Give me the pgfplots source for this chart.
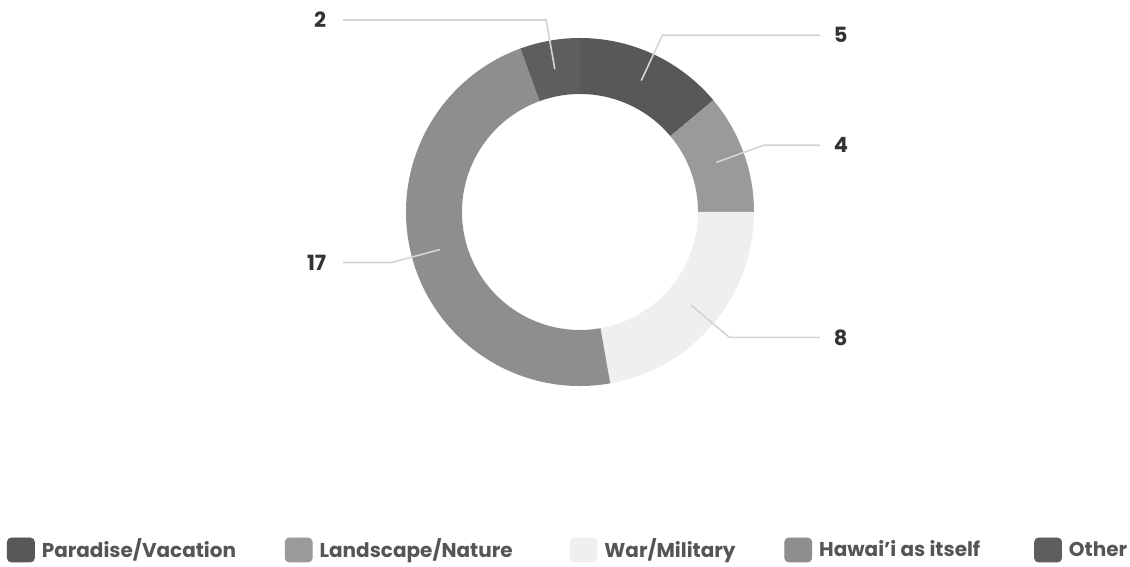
\documentclass[border=0pt]{standalone}
\usepackage{pgfplots}
\pgfplotsset{compat=1.18}
\usepackage{pgfplotstable}
\usepackage{fontspec}
\setmainfont{Poppins}
\definecolor{cPar}{HTML}{585858}
\definecolor{cLand}{HTML}{9A9A9A}
\definecolor{cWar}{HTML}{EFEFEF}
\definecolor{cHaw}{HTML}{8E8E8E}
\definecolor{cOth}{HTML}{5E5E5E}
\definecolor{cLead}{HTML}{D4D4D4}
\definecolor{cText}{HTML}{555555}
\definecolor{cNum}{HTML}{333333}

\pgfplotstableread[col sep=comma]{
name,value,color
Paradise/Vacation,5,cPar
Landscape/Nature,4,cLand
War/Military,8,cWar
Hawai'i as itself,17,cHaw
Other,2,cOth
}\datatable

\pgfplotstablegetrowsof{\datatable}
\pgfmathtruncatemacro\lastrow{\pgfplotsretval-1}
\gdef\total{0}
\pgfplotstableforeachcolumnelement{value}\of\datatable\as\v{%
  \pgfmathparse{\total+\v}\xdef\total{\pgfmathresult}}

% geometry (1 axis unit = 1 px = 0.5pt)
\def\cx{580}
\def\cy{-212}
\def\Ro{87pt}
\def\Ri{59pt}
\def\Rs{72.5pt}
\def\Re{97.5pt}

\begin{document}
\begin{tikzpicture}
\begin{axis}[
  scale only axis,
  width=565pt, height=283.5pt,
  xmin=0, xmax=1130, ymin=-567, ymax=0,
  hide axis, clip=false,
  legend columns=5,
  legend style={at={(axis cs:7,-550)}, anchor=west, draw=none, fill=none,
    inner sep=0pt, outer sep=0pt,
    font=\fontsize{10}{12}\selectfont\bfseries, text=cText,
    nodes={inner sep=0pt},
    /tikz/every odd column/.append style={column sep=3.5pt},
    /tikz/every even column/.append style={column sep=0pt}},
]
\path (rel axis cs:0,0) rectangle (rel axis cs:1,1);
\coordinate (L) at (axis cs:343,0);
\coordinate (R) at (axis cs:820,0);
\gdef\cum{0}
\pgfplotsforeachungrouped \i in {0,...,\lastrow}{%
  \pgfplotstablegetelem{\i}{value}\of\datatable \let\v\pgfplotsretval
  \pgfplotstablegetelem{\i}{color}\of\datatable \let\c\pgfplotsretval
  \pgfmathsetmacro\a{90-360*\cum/\total}%
  \pgfmathsetmacro\b{90-360*(\cum+\v)/\total}%
  \pgfmathsetmacro\m{(\a+\b)/2}%
  \pgfmathparse{\cum+\v}\xdef\cum{\pgfmathresult}%
  \edef\temp{\noexpand\fill[\c] ([shift={(\a:\Ro)}]axis cs:\cx,\cy) arc[start angle=\a, end angle=\b, radius=\Ro] -- ([shift={(\b:\Ri)}]axis cs:\cx,\cy) arc[start angle=\b, end angle=\a, radius=\Ri] -- cycle;}%
  \temp
}
\gdef\cum{0}
\pgfplotsforeachungrouped \i in {0,...,\lastrow}{%
  \pgfplotstablegetelem{\i}{value}\of\datatable \let\v\pgfplotsretval
  \pgfmathsetmacro\a{90-360*\cum/\total}%
  \pgfmathsetmacro\b{90-360*(\cum+\v)/\total}%
  \pgfmathsetmacro\m{(\a+\b)/2}%
  \pgfmathparse{\cum+\v}\xdef\cum{\pgfmathresult}%
  \pgfmathparse{cos(\m)>0 ? 1 : 0}%
  \ifnum\pgfmathresult=1
    \edef\temp{\noexpand\draw[cLead, line width=0.8pt] ([shift={(\m:\Rs)}]axis cs:\cx,\cy) -- ([shift={(\m:\Re)}]axis cs:\cx,\cy) coordinate (e) -- (e -| R) node[anchor=west, xshift=6.5pt, inner sep=0pt, text=cNum, font=\noexpand\fontsize{10.5}{12}\noexpand\selectfont\noexpand\bfseries] {\v};}%
  \else
    \edef\temp{\noexpand\draw[cLead, line width=0.8pt] ([shift={(\m:\Rs)}]axis cs:\cx,\cy) -- ([shift={(\m:\Re)}]axis cs:\cx,\cy) coordinate (e) -- (e -| L) node[anchor=east, xshift=-8pt, inner sep=0pt, text=cNum, font=\noexpand\fontsize{10.5}{12}\noexpand\selectfont\noexpand\bfseries] {\v};}%
  \fi
  \temp
}
\addlegendimage{legend image code/.code={\fill[cPar, rounded corners=2pt] (0pt,-6pt) rectangle (13.5pt,6pt);}}
\addlegendentry{\makebox[121.5pt][l]{\strut Paradise/Vacation}}
\addlegendimage{legend image code/.code={\fill[cLand, rounded corners=2pt] (0pt,-6pt) rectangle (13.5pt,6pt);}}
\addlegendentry{\makebox[125pt][l]{\strut Landscape/Nature}}
\addlegendimage{legend image code/.code={\fill[cWar, rounded corners=2pt] (0pt,-6pt) rectangle (13.5pt,6pt);}}
\addlegendentry{\makebox[90pt][l]{\strut War/Military}}
\addlegendimage{legend image code/.code={\fill[cHaw, rounded corners=2pt] (0pt,-6pt) rectangle (13.5pt,6pt);}}
\addlegendentry{\makebox[107.5pt][l]{\strut Hawai'i as itself}}
\addlegendimage{legend image code/.code={\fill[cOth, rounded corners=2pt] (0pt,-6pt) rectangle (13.5pt,6pt);}}
\addlegendentry{\strut Other}
\end{axis}
\end{tikzpicture}
\end{document}
